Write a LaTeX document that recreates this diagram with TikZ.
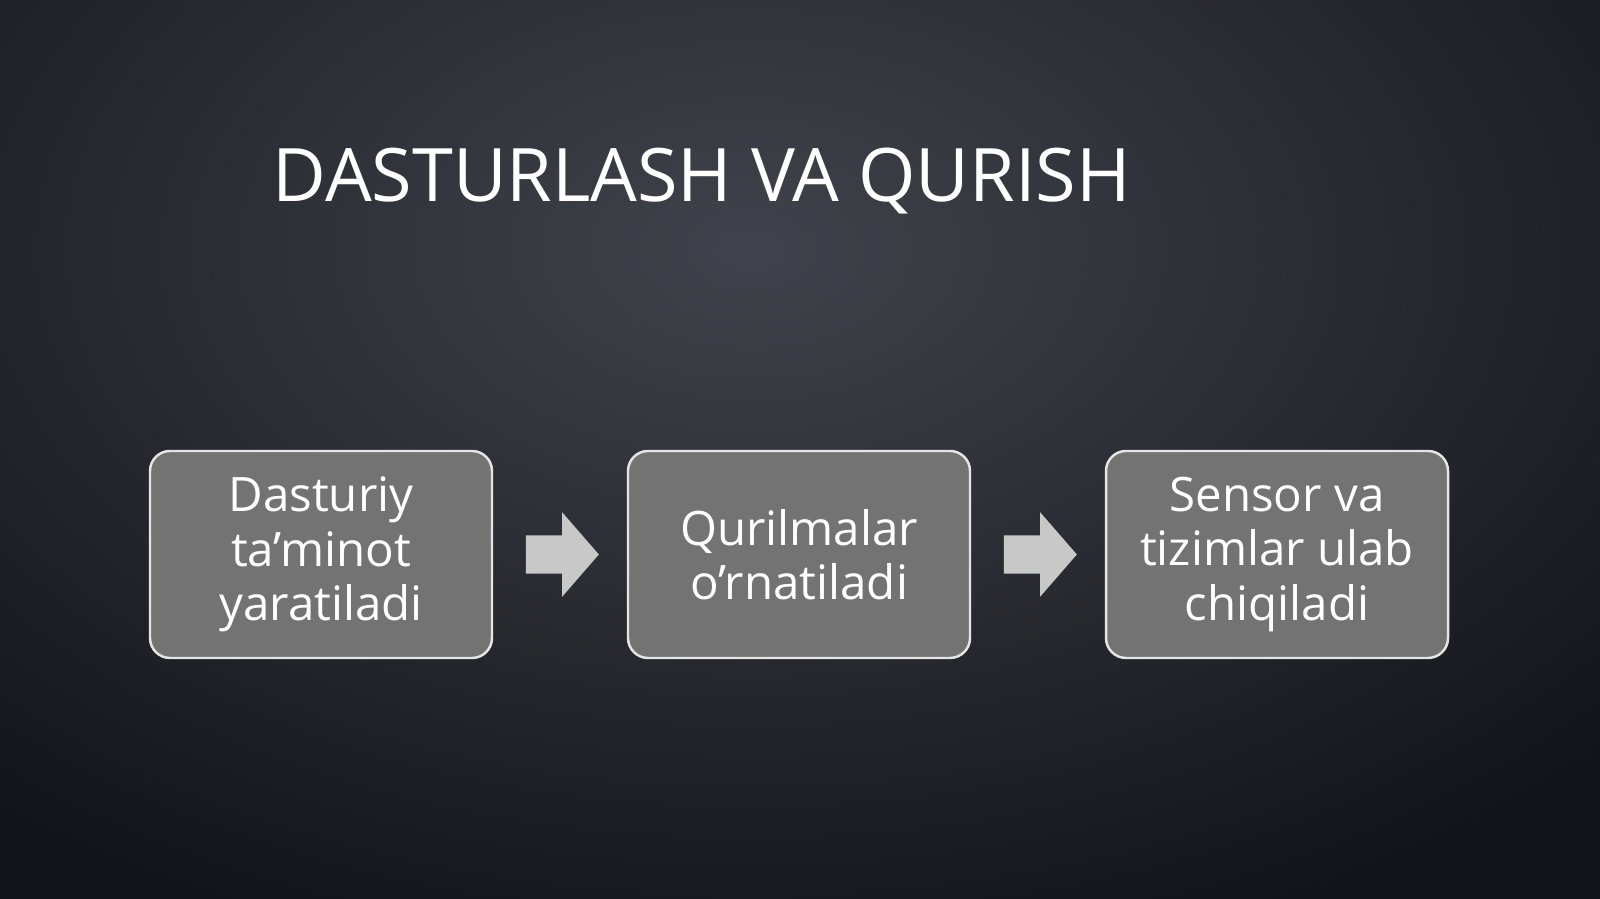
\documentclass[tikz,border=0pt]{standalone}
\usepackage{fontspec}
\setmainfont{Open Sans}
\usetikzlibrary{shapes.arrows,calc}

\definecolor{bginner}{RGB}{64,67,75}
\definecolor{bgouter}{RGB}{18,19,24}
\definecolor{stagefill}{RGB}{115,115,115}
\definecolor{arrowfill}{RGB}{200,200,200}

\begin{document}
\begin{tikzpicture}[
	stage/.style={draw=white!90!black, line width=0.7pt, fill=stagefill, rounded corners=0.2cm,
		minimum width=3.42cm, minimum height=2.07cm, inner sep=0pt,
		align=center, text=white, font=\fontsize{13.5}{15.5}\selectfont},
	flow arrow/.style={single arrow, fill=arrowfill, draw=none, inner xsep=0pt, inner ysep=0.185cm,
		minimum height=0.73cm, single arrow head extend=0.23cm, single arrow tip angle=98}]

				% background
				\useasboundingbox (0,0) rectangle (16,8.99);
				\begin{scope}
					\clip (0,0) rectangle (16,8.99);
					\shade [inner color=bginner, outer color=bgouter] (-4.5,-1) rectangle (19.5,14);
				\end{scope}

				% heading
				\node [anchor=base west, inner sep=0pt, text=white, font=\fontsize{21}{25}\selectfont]
					(heading) at (2.72,6.97) {DASTURLASH VA QURISH};

				% stages
				\foreach \l [count=\i] in {{Dasturiy\\ta’minot\\yaratiladi},{Qurilmalar\\o’rnatiladi},{Sensor va\\tizimlar ulab\\chiqiladi}}
					\node [stage] (stage-\i) at (\i*4.78-1.57,3.445) {\l};

				% arrows between stages
				\foreach \i/\j in {1/2,2/3}
					\node [flow arrow, xshift=-0.06cm] (arrow-\i) at ($(stage-\i.east)!0.5!(stage-\j.west)$) {};

			\end{tikzpicture}
\end{document}
